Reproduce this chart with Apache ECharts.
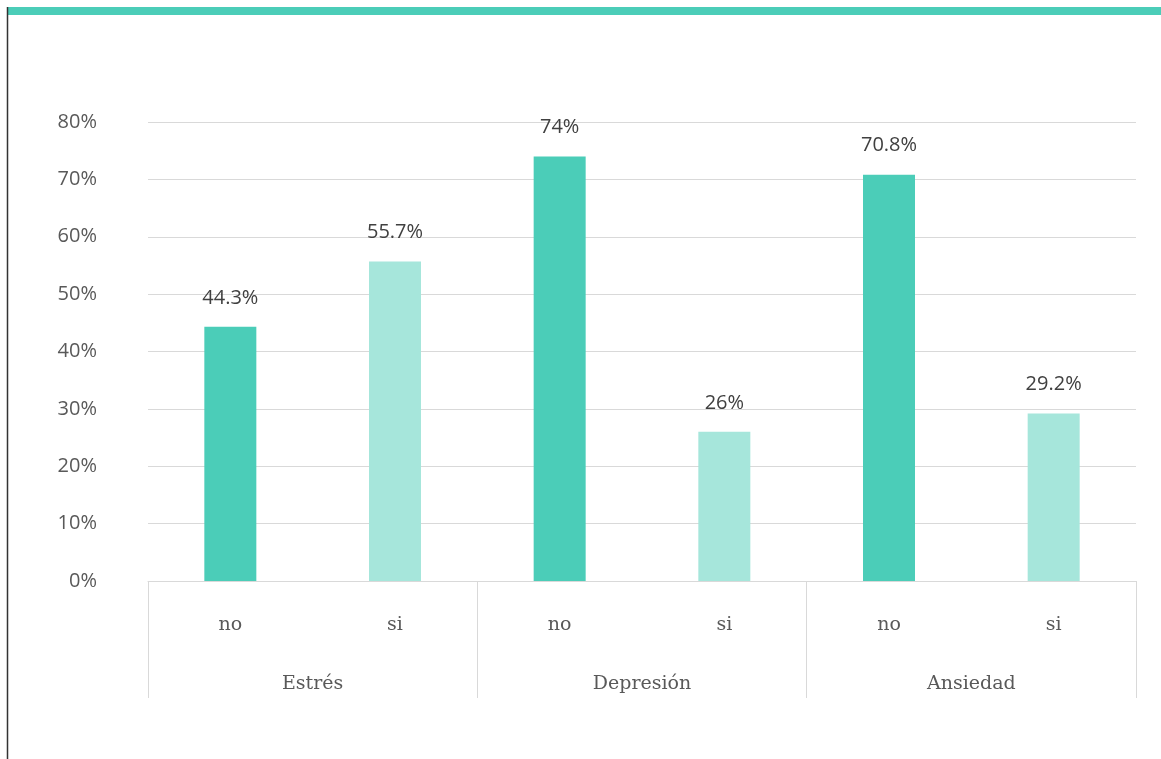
<!DOCTYPE html>
<html><head><meta charset="utf-8">
<script src="https://cdn.jsdelivr.net/npm/echarts@6/dist/echarts.min.js"></script>
<style>html,body{margin:0;padding:0;background:#fff}#c{width:1161px;height:759px}</style>
</head><body><div id="c"></div>
<script>
const subCategories = ['no','si','no','si','no','si'];
const groups = ['Estrés','Depresión','Ansiedad'];
const values = [44.3, 55.7, 74, 26, 70.8, 29.2];
const yTicks = [0,10,20,30,40,50,60,70,80];

const chart = echarts.init(document.getElementById('c'));
const DARK = '#4BCDB8', LIGHT = '#A6E6DB';
chart.setOption({
  animation: false,
  graphic: [
    {type:'rect', shape:{x:7,y:7,width:1154,height:8}, style:{fill:DARK}},
    {type:'line', shape:{x1:7.5,y1:7,x2:7.5,y2:759}, style:{stroke:'#333',lineWidth:1.5}}
  ],
  grid: {left:148, right:25, top:122, bottom:178, containLabel:false},
  xAxis: [
    {type:'category', data:subCategories, position:'bottom',
     axisLine:{show:true, lineStyle:{color:'#D9D9D9', width:1}},
     axisTick:{show:false},
     axisLabel:{margin:35, color:'#595959', fontFamily:'DejaVu Serif', fontSize:19}},
    {type:'category', data:groups, position:'bottom',
     axisLine:{show:false},
     axisTick:{show:true, length:117, inside:false, lineStyle:{color:'#D9D9D9', width:1}},
     axisLabel:{margin:94, color:'#595959', fontFamily:'DejaVu Serif', fontSize:19}}
  ],
  yAxis: {type:'value', min:yTicks[0], max:yTicks[yTicks.length-1], interval:10,
    axisLine:{show:false}, axisTick:{show:false},
    splitLine:{lineStyle:{color:'#D9D9D9', width:1}},
    axisLabel:{formatter: v => v + '%', margin:51, color:'#595959', fontFamily:'Open Sans', fontSize:20, padding:[6,0,0,0]}},
  series: [{
    type:'bar', xAxisIndex:0, data:values, barWidth:52,
    itemStyle:{color: p => subCategories[p.dataIndex]==='no' ? DARK : LIGHT},
    label:{show:true, position:'top', distance:19, formatter: p => p.value + '%',
      color:'#404040', fontFamily:'Open Sans', fontSize:20}
  }]
});
</script></body></html>
